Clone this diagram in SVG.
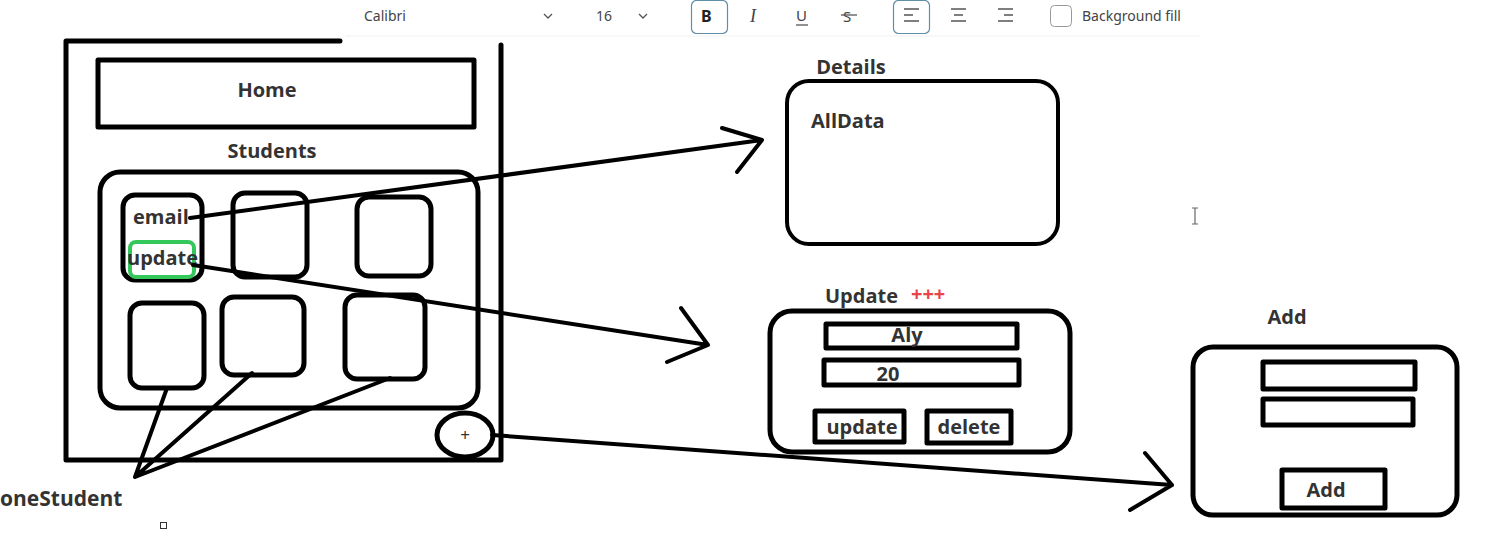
<svg xmlns="http://www.w3.org/2000/svg" width="1505" height="541" viewBox="0 0 1505 541">
<style>
.s{fill:none;stroke:#000;stroke-width:5;stroke-linejoin:round;stroke-linecap:round}
.m{fill:none;stroke:#000;stroke-width:4;stroke-linejoin:round;stroke-linecap:round}
.t{font-family:"Open Sans","Noto Sans",sans-serif;font-weight:700;fill:#333;font-size:20px}
.tb{font-family:"Noto Sans","Open Sans",sans-serif;font-size:14px;fill:#444}
.ic{fill:none;stroke:#555;stroke-width:1.3}
</style>
<rect width="1505" height="541" fill="#fff"/>
<g id="toolbar">
<text class="tb" x="364" y="21">Calibri</text>
<path class="ic" d="M544 14l4 4 4-4M639 14l4 4 4-4"/>
<text class="tb" x="596" y="21">16</text>
<rect x="691.5" y="0.5" width="36" height="33" rx="5" fill="none" stroke="#5f8fa8" stroke-width="1.2"/>
<text x="701" y="22" font-family="Noto Sans,sans-serif" font-weight="700" font-size="16" fill="#222">B</text>
<text x="750" y="22" font-family="Liberation Serif,serif" font-style="italic" font-size="18" fill="#444">I</text>
<text x="796" y="21" font-family="Noto Sans,sans-serif" font-size="15" fill="#444">U</text>
<path class="ic" d="M796 25h12"/>
<text x="843" y="22" font-family="Noto Sans,sans-serif" font-size="15" fill="#444">S</text>
<path class="ic" d="M841 15h16"/>
<rect x="893.5" y="0.5" width="36" height="33" rx="5" fill="none" stroke="#5f8fa8" stroke-width="1.2"/>
<path class="ic" d="M904 9h15M904 15h9M904 21h15"/>
<path class="ic" d="M951 9h15M954 15h9M951 21h15"/>
<path class="ic" d="M998 9h15M1004 15h9M998 21h15"/>
<rect x="1050.5" y="5.5" width="21" height="21" rx="4" fill="#fff" stroke="#999" stroke-width="1"/>
<text class="tb" x="1082" y="21">Background fill</text>
<path d="M345 36H1200" stroke="#f0f0f0" stroke-width="1"/>
</g>
<g id="phone">
<path class="s" d="M340 41H66V460H501V45"/>
</g>
<g id="home">
<rect class="s" x="98" y="60" width="376" height="67"/>
<text class="t" x="267" y="97" text-anchor="middle">Home</text>
</g>
<g id="students">
<text class="t" x="272" y="158" text-anchor="middle">Students</text>
<rect class="s" x="100" y="172" width="378" height="236" rx="20"/>
</g>
<g id="card1">
<rect class="s" x="123" y="195" width="79" height="85" rx="12"/>
<rect x="130" y="242" width="64" height="35" rx="6" fill="none" stroke="#34c759" stroke-width="4"/>
<text class="t" x="133" y="224">email</text>
<text class="t" x="127" y="265">update</text>
</g>
<g id="card2"><rect class="s" x="233" y="193" width="74" height="84" rx="12"/></g>
<g id="card3"><rect class="s" x="357" y="197" width="74" height="79" rx="12"/></g>
<g id="card4"><rect class="s" x="130" y="303" width="74" height="85" rx="12"/></g>
<g id="card5"><rect class="s" x="222" y="297" width="82" height="78" rx="12"/></g>
<g id="card6"><rect class="s" x="345" y="295" width="80" height="84" rx="12"/></g>
<g id="addbtn">
<ellipse class="s" cx="465" cy="435" rx="28" ry="22" fill="#fff"/>
<text x="465" y="441" text-anchor="middle" font-family="Noto Sans,sans-serif" font-size="17" fill="#333">+</text>
</g>
<g id="oneStudent">
<text class="t" x="0" y="506" style="font-size:21px">oneStudent</text>
<rect x="160.5" y="522.5" width="6" height="6" fill="#fff" stroke="#333" stroke-width="1"/>
</g>
<g id="details">
<text class="t" x="851" y="74" text-anchor="middle">Details</text>
<rect class="m" x="787" y="81" width="271" height="163" rx="22"/>
<text class="t" x="811" y="128">AllData</text>
</g>
<g id="update">
<text class="t" x="825" y="303">Update</text>
<text x="911" y="301" font-family="Open Sans,sans-serif" font-weight="700" font-size="20" fill="#e8434b">+++</text>
<rect class="s" x="770" y="311" width="300" height="141" rx="22"/>
<rect class="s" x="826" y="324" width="191" height="24"/>
<text class="t" x="907" y="342" text-anchor="middle">Aly</text>
<rect class="s" x="824" y="360" width="195" height="25"/>
<text class="t" x="888" y="381" text-anchor="middle">20</text>
<rect class="s" x="815" y="411" width="89" height="31"/>
<text class="t" x="862" y="434" text-anchor="middle">update</text>
<rect class="s" x="927" y="411" width="84" height="32"/>
<text class="t" x="969" y="434" text-anchor="middle">delete</text>
</g>
<g id="add">
<text class="t" x="1287" y="324" text-anchor="middle">Add</text>
<rect class="s" x="1193" y="347" width="264" height="168" rx="20"/>
<rect class="s" x="1263" y="362" width="152" height="27"/>
<rect class="s" x="1263" y="399" width="150" height="26"/>
<rect class="s" x="1282" y="470" width="103" height="38"/>
<text class="t" x="1326" y="497" text-anchor="middle">Add</text>
</g>
<g id="connectors">
<path class="m" d="M135 477L167 388M135 477L252 373M135 477L390 378"/>
<path class="m" d="M190 218L762 140M722 128L762 140L737 172"/>
<path class="m" d="M193 265L708 345M681 308L708 345L667 362"/>
<path class="m" d="M492 435L1172 485M1145 453L1172 485L1130 510"/>
</g>
<g id="cursor">
<path d="M1192 208h6M1195 208v16M1192 224h6" stroke="#666" stroke-width="1.2" fill="none"/>
</g>
</svg>
